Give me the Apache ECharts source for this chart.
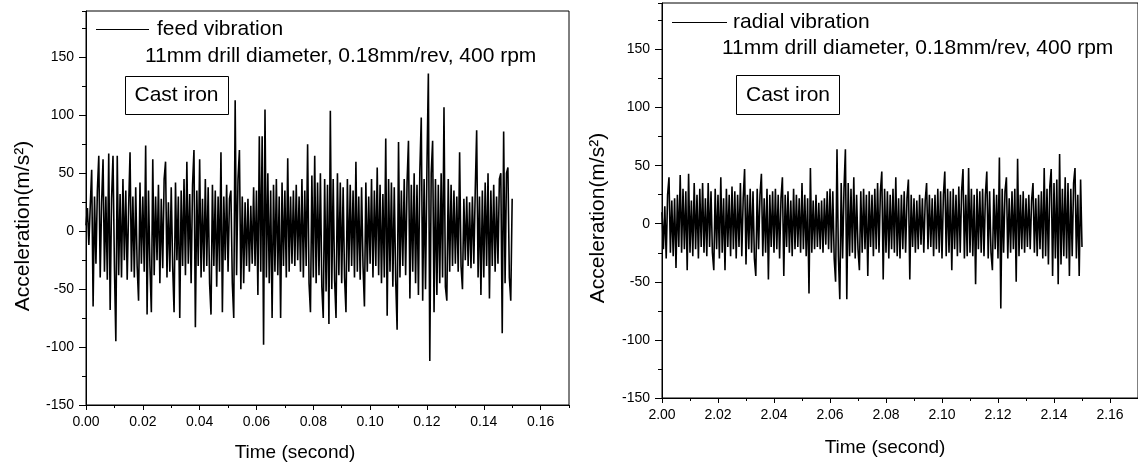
<!DOCTYPE html>
<html>
<head>
<meta charset="utf-8">
<script src="https://cdn.jsdelivr.net/npm/echarts@6/dist/echarts.min.js"></script>
<style>
html,body{margin:0;padding:0;background:#fff;}
#chart{width:1138px;height:467px;}
</style>
</head>
<body>
<div id="chart"></div>
<script>
// ---- Data ----
const feedStart = 0.00;      // s
const radialStart = 2.00;    // s
const sampleStep = 0.0005;   // s between plotted samples
const feedName = 'feed vibration';
const radialName = 'radial vibration';
const conditionText = '11mm drill diameter, 0.18mm/rev, 400 rpm';
const materialText = 'Cast iron';
const xTitle = 'Time (second)';
const yTitle = 'Acceleration(m/s²)';
const yTickValues = [-150, -100, -50, 0, 50, 100, 150];
const leftXTicks = [0.00, 0.02, 0.04, 0.06, 0.08, 0.10, 0.12, 0.14, 0.16];
const rightXTicks = [2.00, 2.02, 2.04, 2.06, 2.08, 2.10, 2.12, 2.14, 2.16];

const feedValues = [
 5, 20, -12, 22, 53, -65, 30, -28, 35, 65,
 -40, 25, 62, -35, 30, -42, 67, -68, 28, 65,
 -30, -95, 65, -38, 32, -40, 45, -25, 35, -42,
 20, 68, -35, 30, -40, 38, -30, -60, 42, -28,
 30, -35, 74, -72, 35, -30, -70, 62, -38, 30,
 -25, 40, -45, 28, -32, 45, 60, -40, 25, -35,
 38, -30, -70, 42, -25, 30, -75, 35, -30, 45,
 -38, 60, -28, 32, -45, 40, 70, -83, 35, -30,
 62, -40, 28, -35, 45, -30, 38, -45, -72, 40,
 -30, 35, -48, 30, -35, 68, -70, 30, -25, 40,
 -35, 28, 35, -45, -75, 113, -38, 45, 70, -50,
 30, -45, 25, -30, 28, -35, 22, -28, 38, -30,
 35, -55, 82, -35, 82, -98, 105, -40, 50, -45,
 35, -75, 40, -35, 45, -38, 30, -75, 42, -30,
 35, -40, 63, -35, 30, -28, 35, -30, 40, -25,
 30, -35, 45, -40, 35, -30, 75, -45, -70, 48,
 -40, 65, -45, 42, -38, 50, -48, -75, 45, -52,
 40, -80, 104, -50, 45, -42, -75, 50, -38, 42,
 -45, 38, -40, -70, 45, -35, 40, -30, 35, -40,
 60, -35, 30, -42, 38, -30, -65, 42, -35, 30,
 -28, 45, -40, 35, -30, 55, -38, 40, -45, 32,
 -40, 80, -73, 45, -35, 42, -48, 38, -42, -85,
 77, -40, 35, -30, 45, -38, 42, 78, -58, 40,
 -35, 50, -45, 40, -55, 52, 98, -60, 45, -50,
 55, 136, -112, 50, 78, -70, 45, -55, 40, -45,
 50, -40, 107, -48, -60, 45, -35, 40, -30, 35,
 -28, 30, -35, 68, -30, -50, 28, -25, 30, -30,
 25, -32, 30, -28, 35, 87, -40, 30, -55, 35,
 -40, 42, -30, 50, -58, 35, -30, 40, -35, 30,
 -28, 45, 50, -88, 86, -45, 50, 55, -40, -60,
 28
];

const radialValues = [
 10, -22, 15, -30, 25, 40, -25, 20, -28, 22,
 -38, 25, -20, 42, -25, 30, -22, 28, -40, 43,
 -25, 20, -28, 35, -22, 25, -30, 30, -20, 35,
 -25, 22, -28, 35, -20, 28, -25, -40, 30, -22,
 25, -30, 40, -25, 22, -40, 30, -20, 25, -28,
 32, -22, 28, -30, 25, -20, 35, -28, 22, 47,
 -35, 25, -22, 30, -25, 28, -30, -45, 30, -22,
 25, 43, -28, 22, -25, 30, -48, 25, -20, 28,
 -25, 30, -22, 25, -30, 22, 40, -45, 25, -20,
 28, -25, 20, -28, 30, -22, 25, -20, 22, -25,
 35, -22, 25, -28, 22, -60, 48, -25, 20, -22,
 25, -20, 18, -22, 20, -25, 22, -18, 28, -22,
 30, -25, 28, -30, -50, 64, -28, -65, 35, -30,
 30, 64, -65, 35, -28, 30, -25, 40, -30, 25,
 -22, -40, 28, -25, 30, -22, 25, -45, 28, -20,
 25, -28, 30, -22, 35, -25, 28, 45, -48, 30,
 -25, 28, -30, 25, -22, 30, -25, 40, -28, 22,
 -30, 25, -22, 28, -25, 22, 38, -48, 25, -20,
 22, -25, 20, -22, 25, -18, 22, -25, 20, 35,
 -22, 25, -20, 22, -28, 25, -22, 30, -25, 28,
 -30, 25, 45, -28, 30, -25, 28, -40, 30, -22,
 25, -28, 32, -25, 28, 47, -30, 25, -28, 48,
 -25, 30, -28, 25, -52, 30, -22, 28, -25, 30,
 -28, 25, 45, -30, 28, -25, -40, 30, -22, 25,
 -30, 57, -73, 30, -25, 28, 40, -30, 22, -25,
 28, -22, 30, -50, 56, -28, 25, -22, 28, -25,
 22, -20, 25, -22, 20, 35, -25, 22, -28, 25,
 -22, 28, -30, 48, -28, 30, -35, 32, 47, -45,
 35, -30, 38, -52, 60, -35, 30, -28, 40, -30,
 35, -45, 30, -28, 35, 48, -30, 25, -45, 38,
 -20
];

// ---- Build ----
const FONT = "'Liberation Sans', Arial, Helvetica, sans-serif";
function toPairs(start, vals) {
  return vals.map((v, i) => [+(start + i * sampleStep).toFixed(4), v]);
}

const grids = [
  { left: 86, top: 11, width: 483, height: 394 },
  { left: 662, top: 3, width: 484, height: 395 }
];

function majorX(gi, min, ticks) {
  return {
    type: 'value', gridIndex: gi, min: min, max: +(min + 0.17).toFixed(2), interval: 0.02,
    position: 'bottom',
    axisLine: { show: true, onZero: false, lineStyle: { color: '#000', width: 1 } },
    axisTick: { show: true, inside: false, length: 5, lineStyle: { color: '#000' } },
    axisLabel: {
      show: true, color: '#000', fontFamily: FONT, fontSize: 14, margin: 10,
      showMaxLabel: false,
      formatter: v => {
        const hit = ticks.find(t => Math.abs(t - v) < 1e-6);
        return hit === undefined ? '' : hit.toFixed(2);
      }
    },
    splitLine: { show: false }
  };
}
function minorX(gi, min) {
  return {
    type: 'value', gridIndex: gi, min: min, max: +(min + 0.17).toFixed(2), interval: 0.01,
    position: 'bottom',
    axisLine: { show: false, onZero: false },
    axisTick: { show: true, inside: false, length: 3, lineStyle: { color: '#000' } },
    axisLabel: { show: false },
    splitLine: { show: false }
  };
}
function majorY(gi) {
  return {
    type: 'value', gridIndex: gi, min: -150, max: 190, interval: 50, position: 'left',
    axisLine: { show: true, onZero: false, lineStyle: { color: '#000', width: 1 } },
    axisTick: { show: true, inside: false, length: 7, lineStyle: { color: '#000' } },
    axisLabel: {
      show: true, color: '#000', fontFamily: FONT, fontSize: 14, margin: 12,
      showMaxLabel: false,
      formatter: v => (yTickValues.indexOf(v) >= 0 ? String(v) : '')
    },
    splitLine: { show: false }
  };
}
function minorY(gi) {
  return {
    type: 'value', gridIndex: gi, min: -150, max: 190, interval: 25, position: 'left',
    axisLine: { show: false, onZero: false },
    axisTick: { show: true, inside: false, length: 4, lineStyle: { color: '#000' } },
    axisLabel: { show: false },
    splitLine: { show: false }
  };
}

const textStyleBase = { fill: '#000', fontFamily: FONT };

const option = {
  animation: false,
  backgroundColor: '#fff',
  grid: grids.map(g => Object.assign({ show: true, borderColor: '#000', borderWidth: 1, backgroundColor: 'transparent' }, g)),
  xAxis: [majorX(0, feedStart, leftXTicks), minorX(0, feedStart), majorX(1, radialStart, rightXTicks), minorX(1, radialStart)],
  yAxis: [majorY(0), minorY(0), majorY(1), minorY(1)],
  legend: [
    {
      data: [feedName], left: 96, top: 18, itemWidth: 53, itemHeight: 1, padding: 0, icon: 'rect',
      itemStyle: { color: '#000' },
      textStyle: { color: '#000', fontFamily: FONT, fontSize: 21, lineHeight: 23, padding: [0, 0, 0, 3] }
    },
    {
      data: [radialName], left: 672, top: 11, itemWidth: 55, itemHeight: 1, padding: 0, icon: 'rect',
      itemStyle: { color: '#000' },
      textStyle: { color: '#000', fontFamily: FONT, fontSize: 21, lineHeight: 23, padding: [0, 0, 0, 1] }
    }
  ],
  series: [
    {
      name: feedName, type: 'line', xAxisIndex: 0, yAxisIndex: 0,
      data: toPairs(feedStart, feedValues), symbol: 'none', showSymbol: false,
      lineStyle: { color: '#000', width: 1.6 }, itemStyle: { color: '#000' }, sampling: null
    },
    {
      name: radialName, type: 'line', xAxisIndex: 2, yAxisIndex: 2,
      data: toPairs(radialStart, radialValues), symbol: 'none', showSymbol: false,
      lineStyle: { color: '#000', width: 1.6 }, itemStyle: { color: '#000' }, sampling: null
    }
  ],
  graphic: [
    { type: 'text', left: 145, top: 46, style: Object.assign({ text: conditionText, fontSize: 21 }, textStyleBase) },
    { type: 'text', left: 722, top: 38, style: Object.assign({ text: conditionText, fontSize: 21 }, textStyleBase) },
    { type: 'rect', shape: { x: 125.5, y: 76.5, width: 103, height: 38 }, style: { fill: 'none', stroke: '#000', lineWidth: 1 } },
    { type: 'text', x: 176.5, y: 95.5, style: Object.assign({ text: materialText, fontSize: 21, textAlign: 'center', textVerticalAlign: 'middle' }, textStyleBase) },
    { type: 'rect', shape: { x: 736.5, y: 75.5, width: 103, height: 39 }, style: { fill: 'none', stroke: '#000', lineWidth: 1 } },
    { type: 'text', x: 788, y: 95, style: Object.assign({ text: materialText, fontSize: 21, textAlign: 'center', textVerticalAlign: 'middle' }, textStyleBase) },
    { type: 'text', x: 295, y: 453, style: Object.assign({ text: xTitle, fontSize: 19, textAlign: 'center', textVerticalAlign: 'middle' }, textStyleBase) },
    { type: 'text', x: 885, y: 448, style: Object.assign({ text: xTitle, fontSize: 19, textAlign: 'center', textVerticalAlign: 'middle' }, textStyleBase) },
    { type: 'text', x: 23, y: 226, rotation: Math.PI / 2, style: Object.assign({ text: yTitle, fontSize: 21, textAlign: 'center', textVerticalAlign: 'middle' }, textStyleBase) },
    { type: 'text', x: 598, y: 218, rotation: Math.PI / 2, style: Object.assign({ text: yTitle, fontSize: 21, textAlign: 'center', textVerticalAlign: 'middle' }, textStyleBase) }
  ]
};

const chart = echarts.init(document.getElementById('chart'), null, { renderer: 'canvas', width: 1138, height: 467 });
chart.setOption(option);
</script>
</body>
</html>
